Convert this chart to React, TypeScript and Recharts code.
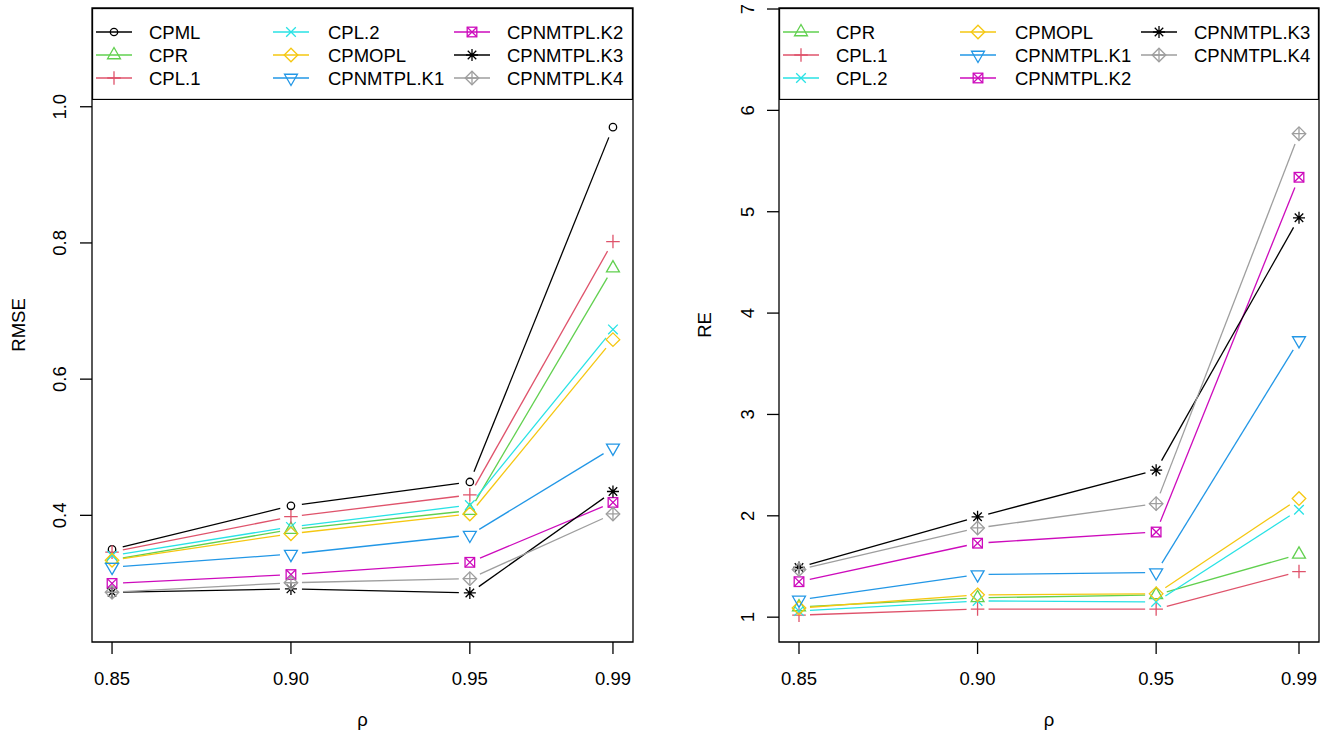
import React from 'react';
import { LineChart, Line, XAxis, YAxis, ReferenceArea, Legend } from 'recharts';

// x values (rho)
const rho = [0.85, 0.9, 0.95, 0.99];

// RMSE panel (left)
const rmseCPML = [0.35, 0.414, 0.449, 0.97];
const rmseCPR = [0.335, 0.379, 0.407, 0.763];
const rmseCPL1 = [0.346, 0.398, 0.43, 0.802];
const rmseCPL2 = [0.341, 0.383, 0.415, 0.673];
const rmseCPMOPL = [0.334, 0.373, 0.402, 0.658];
const rmseK1 = [0.324, 0.343, 0.371, 0.499];
const rmseK2 = [0.3, 0.313, 0.331, 0.419];
const rmseK3 = [0.287, 0.292, 0.286, 0.435];
const rmseK4 = [0.287, 0.301, 0.307, 0.402];

// RE panel (right)
const reCPR = [1.1, 1.19, 1.22, 1.62];
const reCPL1 = [1.02, 1.08, 1.08, 1.45];
const reCPL2 = [1.06, 1.16, 1.15, 2.06];
const reCPMOPL = [1.09, 1.22, 1.23, 2.17];
const reK1 = [1.17, 1.42, 1.44, 3.73];
const reK2 = [1.35, 1.73, 1.84, 5.34];
const reK3 = [1.49, 1.99, 2.45, 4.94];
const reK4 = [1.47, 1.88, 2.12, 5.77];

const rmseTicks = [0.4, 0.6, 0.8, 1.0];
const reTicks = [1, 2, 3, 4, 5, 6, 7];

const X_DOMAIN: [number, number] = [0.8444, 0.9956];
const RMSE_DOMAIN: [number, number] = [0.214, 1.145];
const RE_DOMAIN: [number, number] = [0.755, 7.01];

const FONT = '"Liberation Sans", Arial, Helvetica, sans-serif';
const FS = 18.5;
const LW = 1.3;
const GAP = 11;

// R-like styling per method: colour and plotting symbol
const STYLE: Record<string, { color: string; pch: number }> = {
  CPML: { color: '#000000', pch: 1 },
  CPR: { color: '#61D04F', pch: 2 },
  'CPL.1': { color: '#DF536B', pch: 3 },
  'CPL.2': { color: '#28E2E5', pch: 4 },
  CPMOPL: { color: '#F5C710', pch: 5 },
  'CPNMTPL.K1': { color: '#2297E6', pch: 6 },
  'CPNMTPL.K2': { color: '#CD0BBC', pch: 7 },
  'CPNMTPL.K3': { color: '#000000', pch: 8 },
  'CPNMTPL.K4': { color: '#9E9E9E', pch: 9 },
};

interface Series {
  name: string;
  values: number[];
}

const rmseSeries: Series[] = [
  { name: 'CPML', values: rmseCPML },
  { name: 'CPR', values: rmseCPR },
  { name: 'CPL.1', values: rmseCPL1 },
  { name: 'CPL.2', values: rmseCPL2 },
  { name: 'CPMOPL', values: rmseCPMOPL },
  { name: 'CPNMTPL.K1', values: rmseK1 },
  { name: 'CPNMTPL.K2', values: rmseK2 },
  { name: 'CPNMTPL.K3', values: rmseK3 },
  { name: 'CPNMTPL.K4', values: rmseK4 },
];

const reSeries: Series[] = [
  { name: 'CPR', values: reCPR },
  { name: 'CPL.1', values: reCPL1 },
  { name: 'CPL.2', values: reCPL2 },
  { name: 'CPMOPL', values: reCPMOPL },
  { name: 'CPNMTPL.K1', values: reK1 },
  { name: 'CPNMTPL.K2', values: reK2 },
  { name: 'CPNMTPL.K3', values: reK3 },
  { name: 'CPNMTPL.K4', values: reK4 },
];

const keyOf = (name: string) => name.replace(/\./g, '_');

const buildRows = (series: Series[]) =>
  rho.map((r, i) => {
    const row: Record<string, number> = { rho: r };
    series.forEach(s => {
      row[keyOf(s.name)] = s.values[i];
    });
    return row;
  });

const Marker = ({ pch, x, y, color }: { pch: number; x: number; y: number; color: string }) => {
  const r = 4.8;
  const p = { stroke: color, strokeWidth: LW, fill: 'none' };
  const s2 = Math.SQRT2 * r;
  const t = 1.555 * r;
  switch (pch) {
    case 1:
      return <circle cx={x} cy={y} r={3.7} {...p} />;
    case 2:
      return <polygon points={`${x},${y - t} ${x + t * 0.866},${y + t * 0.5} ${x - t * 0.866},${y + t * 0.5}`} {...p} />;
    case 3:
      return <path d={`M${x - s2},${y}H${x + s2}M${x},${y - s2}V${y + s2}`} {...p} />;
    case 4:
      return <path d={`M${x - r},${y - r}L${x + r},${y + r}M${x - r},${y + r}L${x + r},${y - r}`} {...p} />;
    case 5:
      return <polygon points={`${x},${y - s2} ${x + s2},${y} ${x},${y + s2} ${x - s2},${y}`} {...p} />;
    case 6:
      return <polygon points={`${x},${y + t} ${x + t * 0.866},${y - t * 0.5} ${x - t * 0.866},${y - t * 0.5}`} {...p} />;
    case 7:
      return (
        <g {...p}>
          <rect x={x - r} y={y - r} width={2 * r} height={2 * r} />
          <path d={`M${x - r},${y - r}L${x + r},${y + r}M${x - r},${y + r}L${x + r},${y - r}`} />
        </g>
      );
    case 8: {
      const a = 0.886 * r;
      const b = Math.SQRT2 * a;
      return (
        <path
          d={`M${x - a},${y - a}L${x + a},${y + a}M${x - a},${y + a}L${x + a},${y - a}M${x - b},${y}H${x + b}M${x},${y - b}V${y + b}`}
          {...p}
        />
      );
    }
    case 9:
      return (
        <g {...p}>
          <polygon points={`${x},${y - s2} ${x + s2},${y} ${x},${y + s2} ${x - s2},${y}`} />
          <path d={`M${x - s2},${y}H${x + s2}M${x},${y - s2}V${y + s2}`} />
        </g>
      );
    default:
      return null;
  }
};

// type = "b": segments stop short of each point, point symbol drawn on top
const typeBDot = (name: string) => (props: any) => {
  const { cx, cy, index, points } = props;
  const { color, pch } = STYLE[name];
  if (cx == null || cy == null) return <g key={`d-${index}`} />;
  const next = points ? points[index + 1] : undefined;
  let seg = null;
  if (next && next.x != null && next.y != null) {
    const dx = next.x - cx;
    const dy = next.y - cy;
    const d = Math.hypot(dx, dy);
    if (d > 2 * GAP) {
      const f = GAP / d;
      seg = (
        <line
          x1={cx + dx * f}
          y1={cy + dy * f}
          x2={next.x - dx * f}
          y2={next.y - dy * f}
          stroke={color}
          strokeWidth={LW}
        />
      );
    }
  }
  return (
    <g key={`d-${index}`}>
      {seg}
      <Marker pch={pch} x={cx} y={cy} color={color} />
    </g>
  );
};

const LEG_H = 92;
const LEG_SYM = [22, 199, 380];
const LEG_TXT = [57, 236, 415];
const LEG_ROW = [24, 47, 70];

const PanelLegend = ({ names, width }: { names: string[]; width: number }) => (
  <svg width={width} height={LEG_H} style={{ display: 'block' }}>
    <rect x={0.5} y={0.5} width={width - 1} height={LEG_H - 1} fill="#fff" stroke="#000" strokeWidth={LW} />
    {names.map((name, i) => {
      const col = Math.floor(i / 3);
      const row = i % 3;
      const cx = LEG_SYM[col];
      const cy = LEG_ROW[row];
      const { color, pch } = STYLE[name];
      return (
        <g key={name}>
          <line x1={cx - 18} y1={cy} x2={cx + 18} y2={cy} stroke={color} strokeWidth={LW} />
          <Marker pch={pch} x={cx} y={cy} color={color} />
          <text x={LEG_TXT[col]} y={cy} dy="0.36em" fontSize={FS} fontFamily={FONT} fill="#000">
            {name}
          </text>
        </g>
      );
    })}
  </svg>
);

interface PanelProps {
  series: Series[];
  yDomain: [number, number];
  yTicks: number[];
  yFormat: (v: number) => string;
  yLabel: string;
  width: number;
  yAxisWidth: number;
  rightMargin: number;
  tickLabelX: number;
  titleX: number;
}

const Panel: React.FC<PanelProps> = ({
  series,
  yDomain,
  yTicks,
  yFormat,
  yLabel,
  width,
  yAxisWidth,
  rightMargin,
  tickLabelX,
  titleX,
}) => {
  const data = buildRows(series);
  const plotW = width - yAxisWidth - rightMargin;
  const midX = yAxisWidth + plotW / 2;
  const top = 8;
  const bottom = 642;
  const midY = (top + bottom) / 2;

  return (
    <LineChart
      width={width}
      height={738}
      data={data}
      margin={{ top, right: rightMargin, bottom: 0, left: 0 }}
      style={{ fontFamily: FONT }}
    >
      <XAxis
        dataKey="rho"
        type="number"
        domain={X_DOMAIN}
        ticks={rho}
        interval={0}
        allowDataOverflow
        height={738 - bottom}
        axisLine={false}
        tickSize={12}
        tickLine={{ stroke: '#000', strokeWidth: LW }}
        tick={(p: any) => (
          <text x={p.x} y={678} dy="0.36em" textAnchor="middle" fontSize={FS} fontFamily={FONT} fill="#000">
            {Number(p.payload.value).toFixed(2)}
          </text>
        )}
        label={() => (
          <text x={midX} y={720} dy="0.3em" textAnchor="middle" fontSize={FS} fontFamily={FONT} fill="#000">
            ρ
          </text>
        )}
      />
      <YAxis
        type="number"
        domain={yDomain}
        ticks={yTicks}
        interval={0}
        allowDataOverflow
        width={yAxisWidth}
        axisLine={false}
        tickSize={12}
        tickLine={{ stroke: '#000', strokeWidth: LW }}
        tick={(p: any) => (
          <text
            x={tickLabelX}
            y={p.y}
            dy="0.36em"
            transform={`rotate(-90 ${tickLabelX} ${p.y})`}
            textAnchor="middle"
            fontSize={FS}
            fontFamily={FONT}
            fill="#000"
          >
            {yFormat(Number(p.payload.value))}
          </text>
        )}
        label={() => (
          <text
            x={titleX}
            y={midY}
            dy="0.36em"
            transform={`rotate(-90 ${titleX} ${midY})`}
            textAnchor="middle"
            fontSize={FS}
            fontFamily={FONT}
            fill="#000"
          >
            {yLabel}
          </text>
        )}
      />
      <ReferenceArea
        x1={X_DOMAIN[0]}
        x2={X_DOMAIN[1]}
        y1={yDomain[0]}
        y2={yDomain[1]}
        fill="none"
        stroke="#000"
        strokeWidth={LW}
        ifOverflow="visible"
      />
      {series.map(s => (
        <Line
          key={s.name}
          name={s.name}
          dataKey={keyOf(s.name)}
          stroke="none"
          dot={typeBDot(s.name)}
          activeDot={false}
          legendType="none"
          isAnimationActive={false}
        />
      ))}
      <Legend
        verticalAlign="middle"
        align="center"
        wrapperStyle={{ top, left: yAxisWidth, width: plotW, height: LEG_H }}
        content={() => <PanelLegend names={series.map(s => s.name)} width={plotW} />}
      />
    </LineChart>
  );
};

const App: React.FC = () => (
  <div style={{ position: 'absolute', left: 0, top: 0, width: 1325, height: 738, background: '#fff' }}>
    <div style={{ position: 'absolute', left: 0, top: 0 }}>
      <Panel
        series={rmseSeries}
        yDomain={RMSE_DOMAIN}
        yTicks={rmseTicks}
        yFormat={v => v.toFixed(1)}
        yLabel="RMSE"
        width={662}
        yAxisWidth={92}
        rightMargin={29}
        tickLabelX={59}
        titleX={18}
      />
    </div>
    <div style={{ position: 'absolute', left: 662, top: 0 }}>
      <Panel
        series={reSeries}
        yDomain={RE_DOMAIN}
        yTicks={reTicks}
        yFormat={v => String(v)}
        yLabel="RE"
        width={663}
        yAxisWidth={117}
        rightMargin={6}
        tickLabelX={85}
        titleX={42}
      />
    </div>
  </div>
);

export default App;
